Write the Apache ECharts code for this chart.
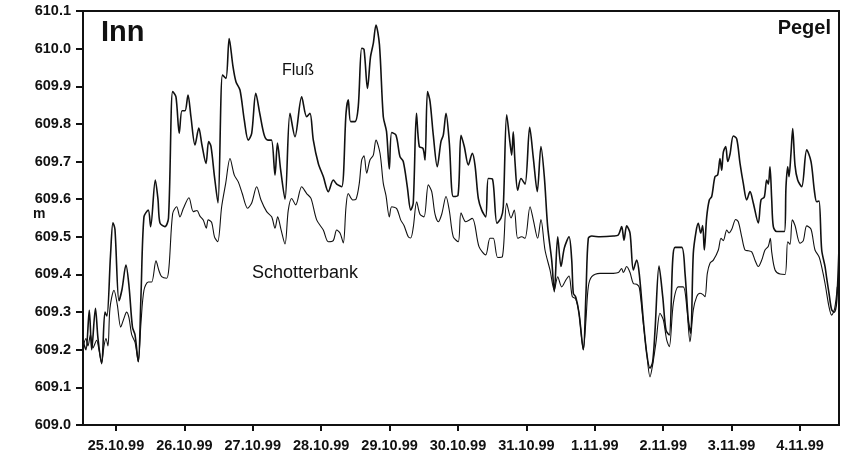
<!DOCTYPE html>
<html>
<head>
<meta charset="utf-8">
<script src="https://cdn.jsdelivr.net/npm/echarts@6/dist/echarts.min.js"></script>
<style>
  html, body { margin: 0; padding: 0; background: #fff; }
  #chart { width: 844px; height: 458px; }
</style>
</head>
<body>
<div id="chart"></div>
<script>
// Water level at the gauge, river Inn, 24.10.99 – 4.11.99
// Time is given in days since 25.10.99 00:00, levels in m a.s.l.

const dateLabels = ['25.10.99', '26.10.99', '27.10.99', '28.10.99', '29.10.99', '30.10.99',
                    '31.10.99', '1.11.99', '2.11.99', '3.11.99', '4.11.99'];
const dateTicks = [0, 1, 2, 3, 4, 5, 6, 7, 8, 9, 10];

const levelTicks = { min: 609.0, max: 610.1, step: 0.1 };

// Fluß (river channel)
const flussTime = [
  -0.478, -0.439, -0.390, -0.355, -0.300, -0.263, -0.209, -0.161, -0.132, -0.080,
  -0.044, -0.015, 0.044, 0.088, 0.146, 0.190, 0.241, 0.278, 0.326, 0.365,
  0.409, 0.472, 0.507, 0.575, 0.614, 0.643, 0.716, 0.768, 0.829, 0.877,
  0.925, 0.965, 1.009, 1.053, 1.096, 1.155, 1.211, 1.257, 1.316, 1.355,
  1.389, 1.440, 1.491, 1.557, 1.608, 1.655, 1.711, 1.754, 1.813, 1.876,
  1.934, 1.984, 2.044, 2.105, 2.168, 2.222, 2.273, 2.325, 2.361, 2.408,
  2.471, 2.544, 2.617, 2.715, 2.788, 2.836, 2.885, 2.958, 3.031, 3.104,
  3.177, 3.227, 3.300, 3.363, 3.396, 3.431, 3.494, 3.542, 3.592, 3.626,
  3.677, 3.721, 3.762, 3.801, 3.852, 3.908, 3.955, 3.996, 4.031, 4.094,
  4.152, 4.200, 4.259, 4.309, 4.346, 4.393, 4.434, 4.488, 4.518, 4.554,
  4.591, 4.639, 4.697, 4.751, 4.785, 4.825, 4.873, 4.931, 5.000, 5.044,
  5.092, 5.151, 5.209, 5.249, 5.297, 5.347, 5.405, 5.443, 5.502, 5.570,
  5.629, 5.662, 5.712, 5.760, 5.785, 5.808, 5.833, 5.873, 5.921, 5.980,
  6.048, 6.101, 6.159, 6.213, 6.262, 6.311, 6.370, 6.408, 6.458, 6.506,
  6.554, 6.623, 6.662, 6.686, 6.721, 6.769, 6.832, 6.871, 6.905, 6.955,
  7.076, 7.271, 7.344, 7.393, 7.427, 7.466, 7.515, 7.563, 7.613, 7.651,
  7.709, 7.759, 7.807, 7.846, 7.880, 7.939, 7.993, 8.041, 8.089, 8.139,
  8.173, 8.271, 8.319, 8.367, 8.402, 8.440, 8.480, 8.513, 8.548, 8.577,
  8.601, 8.636, 8.674, 8.709, 8.757, 8.797, 8.830, 8.855, 8.879, 8.914,
  8.943, 8.977, 9.025, 9.075, 9.123, 9.171, 9.221, 9.269, 9.317, 9.390,
  9.430, 9.478, 9.513, 9.537, 9.561, 9.586, 9.610, 9.659, 9.771, 9.795,
  9.820, 9.839, 9.868, 9.893, 9.927, 9.966, 10.025, 10.098, 10.161, 10.209,
  10.244, 10.278, 10.317, 10.366, 10.390, 10.424, 10.463, 10.502, 10.537, 10.570
];
const flussLevel = [
  609.220, 609.200, 609.305, 609.200, 609.310, 609.230, 609.163, 609.300, 609.290, 609.450,
  609.537, 609.520, 609.330, 609.360, 609.425, 609.370, 609.260, 609.240, 609.168, 609.340,
  609.553, 609.571, 609.527, 609.651, 609.600, 609.537, 609.527, 609.550, 609.886, 609.872,
  609.775, 609.835, 609.835, 609.877, 609.819, 609.744, 609.789, 609.744, 609.695, 609.753,
  609.740, 609.660, 609.590, 609.930, 609.921, 610.027, 609.952, 609.912, 609.890, 609.810,
  609.757, 609.775, 609.881, 609.825, 609.770, 609.757, 609.757, 609.664, 609.749, 609.677,
  609.600, 609.828, 609.766, 609.872, 609.819, 609.828, 609.757, 609.695, 609.660, 609.620,
  609.651, 609.640, 609.633, 609.828, 609.864, 609.806, 609.806, 609.846, 610.001, 609.998,
  609.894, 609.978, 610.014, 610.063, 610.010, 609.819, 609.780, 609.680, 609.777, 609.770,
  609.713, 609.700, 609.633, 609.571, 609.590, 609.828, 609.740, 609.735, 609.704, 609.886,
  609.860, 609.770, 609.686, 609.753, 609.770, 609.828, 609.750, 609.607, 609.610, 609.770,
  609.740, 609.691, 609.722, 609.690, 609.602, 609.571, 609.553, 609.655, 609.654, 609.536,
  609.550, 609.580, 609.824, 609.750, 609.717, 609.779, 609.700, 609.624, 609.655, 609.640,
  609.791, 609.710, 609.620, 609.740, 609.660, 609.527, 609.438, 609.354, 609.500, 609.421,
  609.470, 609.500, 609.440, 609.350, 609.340, 609.297, 609.200, 609.350, 609.496, 609.502,
  609.500, 609.502, 609.505, 609.527, 609.491, 609.529, 609.510, 609.412, 609.438, 609.400,
  609.279, 609.190, 609.151, 609.168, 609.250, 609.422, 609.341, 609.252, 609.239, 609.438,
  609.472, 609.472, 609.403, 609.279, 609.244, 609.456, 609.514, 609.536, 609.510, 609.530,
  609.465, 609.553, 609.598, 609.607, 609.660, 609.665, 609.708, 609.677, 609.725, 609.740,
  609.700, 609.720, 609.768, 609.760, 609.695, 609.642, 609.598, 609.620, 609.590, 609.537,
  609.598, 609.606, 609.651, 609.640, 609.686, 609.600, 609.527, 609.514, 609.514, 609.633,
  609.686, 609.660, 609.722, 609.788, 609.690, 609.651, 609.633, 609.731, 609.700, 609.624,
  609.593, 609.595, 609.465, 609.421, 609.390, 609.350, 609.306, 609.300, 609.332, 609.474
];

// Schotterbank (gravel bar)
const bankTime = [
  -0.478, -0.439, -0.409, -0.373, -0.336, -0.282, -0.249, -0.209, -0.175, -0.146,
  -0.117, -0.088, -0.029, 0.019, 0.069, 0.110, 0.156, 0.190, 0.230, 0.278,
  0.326, 0.365, 0.409, 0.472, 0.522, 0.585, 0.629, 0.668, 0.741, 0.775,
  0.829, 0.887, 0.936, 0.984, 1.067, 1.130, 1.184, 1.228, 1.276, 1.320,
  1.349, 1.399, 1.440, 1.487, 1.545, 1.604, 1.667, 1.730, 1.788, 1.846,
  1.925, 1.984, 2.057, 2.120, 2.203, 2.276, 2.325, 2.364, 2.412, 2.471,
  2.519, 2.569, 2.627, 2.715, 2.788, 2.851, 2.934, 3.031, 3.104, 3.177,
  3.227, 3.275, 3.323, 3.363, 3.396, 3.461, 3.509, 3.557, 3.592, 3.626,
  3.665, 3.713, 3.762, 3.801, 3.860, 3.908, 3.947, 3.996, 4.031, 4.104,
  4.162, 4.211, 4.273, 4.309, 4.346, 4.396, 4.444, 4.503, 4.566, 4.616,
  4.664, 4.712, 4.762, 4.825, 4.873, 4.931, 5.004, 5.044, 5.113, 5.209,
  5.307, 5.405, 5.468, 5.516, 5.580, 5.648, 5.712, 5.775, 5.823, 5.873,
  5.931, 5.980, 6.053, 6.101, 6.165, 6.213, 6.272, 6.345, 6.408, 6.458,
  6.516, 6.579, 6.623, 6.671, 6.721, 6.769, 6.832, 6.871, 6.905, 6.955,
  7.076, 7.271, 7.344, 7.393, 7.417, 7.466, 7.515, 7.563, 7.613, 7.651,
  7.709, 7.759, 7.807, 7.846, 7.895, 7.953, 8.001, 8.051, 8.089, 8.148,
  8.221, 8.294, 8.344, 8.392, 8.440, 8.490, 8.538, 8.577, 8.611, 8.645,
  8.684, 8.733, 8.806, 8.845, 8.879, 8.929, 8.962, 9.002, 9.060, 9.098,
  9.148, 9.196, 9.244, 9.294, 9.342, 9.390, 9.440, 9.488, 9.537, 9.566,
  9.586, 9.635, 9.708, 9.781, 9.820, 9.854, 9.887, 9.927, 10.000, 10.048,
  10.098, 10.161, 10.219, 10.278, 10.317, 10.366, 10.424, 10.463, 10.507, 10.545
];
const bankLevel = [
  609.210, 609.230, 609.210, 609.240, 609.205, 609.225, 609.200, 609.165, 609.210, 609.230,
  609.210, 609.310, 609.358, 609.320, 609.260, 609.280, 609.300, 609.285, 609.240, 609.220,
  609.168, 609.270, 609.358, 609.380, 609.380, 609.436, 609.410, 609.394, 609.390, 609.420,
  609.562, 609.580, 609.553, 609.575, 609.604, 609.567, 609.570, 609.555, 609.545, 609.523,
  609.545, 609.538, 609.500, 609.487, 609.580, 609.642, 609.708, 609.664, 609.646, 609.615,
  609.576, 609.590, 609.633, 609.598, 609.567, 609.553, 609.523, 609.553, 609.520, 609.481,
  609.571, 609.602, 609.585, 609.633, 609.615, 609.602, 609.545, 609.518, 609.487, 609.490,
  609.518, 609.510, 609.484, 609.580, 609.615, 609.598, 609.600, 609.642, 609.704, 609.715,
  609.669, 609.704, 609.717, 609.757, 609.722, 609.642, 609.610, 609.553, 609.580, 609.575,
  609.545, 609.530, 609.500, 609.497, 609.525, 609.593, 609.560, 609.553, 609.638, 609.620,
  609.560, 609.540, 609.560, 609.607, 609.570, 609.500, 609.487, 609.564, 609.540, 609.549,
  609.474, 609.452, 609.496, 609.496, 609.445, 609.447, 609.589, 609.550, 609.571, 609.496,
  609.500, 609.496, 609.580, 609.545, 609.496, 609.546, 609.465, 609.412, 609.359, 609.394,
  609.367, 609.386, 609.396, 609.341, 609.335, 609.297, 609.200, 609.280, 609.367, 609.394,
  609.403, 609.403, 609.405, 609.416, 609.405, 609.421, 609.405, 609.376, 609.374, 609.365,
  609.270, 609.190, 609.128, 609.160, 609.220, 609.297, 609.280, 609.226, 609.208, 609.323,
  609.367, 609.367, 609.314, 609.221, 609.306, 609.341, 609.350, 609.347, 609.341, 609.403,
  609.430, 609.438, 609.465, 609.496, 609.490, 609.518, 609.510, 609.520, 609.546, 609.540,
  609.500, 609.465, 609.463, 609.460, 609.438, 609.421, 609.438, 609.465, 609.475, 609.496,
  609.460, 609.412, 609.401, 609.400, 609.487, 609.480, 609.545, 609.530, 609.483, 609.490,
  609.529, 609.520, 609.465, 609.447, 609.420, 609.376, 609.314, 609.292, 609.310, 609.367
];

const toPairs = (t, v) => t.map((x, i) => [x, v[i]]);

const FONT = '"Liberation Sans", Arial, Helvetica, sans-serif';
const chart = echarts.init(document.getElementById('chart'), null, { renderer: 'canvas' });

chart.setOption({
  animation: false,
  backgroundColor: '#ffffff',
  grid: {
    left: 83, right: 5, top: 11, bottom: 33,
    show: true, borderColor: '#111', borderWidth: 2, backgroundColor: 'transparent'
  },
  xAxis: {
    type: 'value',
    min: -0.482,
    max: 10.57,
    axisLine: { show: true, onZero: false, lineStyle: { color: '#111', width: 2 } },
    axisTick: { show: true, length: 6, customValues: dateTicks, lineStyle: { color: '#111', width: 2 } },
    axisLabel: {
      customValues: dateTicks,
      formatter: (v) => dateLabels[Math.round(v)],
      color: '#111', fontFamily: FONT, fontWeight: 'bold', fontSize: 14.5, margin: 13
    },
    splitLine: { show: false }
  },
  yAxis: {
    type: 'value',
    min: levelTicks.min,
    max: levelTicks.max,
    interval: levelTicks.step,
    axisLine: { show: true, onZero: false, lineStyle: { color: '#111', width: 2 } },
    axisTick: { show: true, length: 7, lineStyle: { color: '#111', width: 2 } },
    axisLabel: {
      formatter: (v) => v.toFixed(1),
      color: '#111', fontFamily: FONT, fontWeight: 'bold', fontSize: 14.5, margin: 12
    },
    splitLine: { show: false }
  },
  series: [
    {
      name: 'Fluß',
      type: 'line',
      data: toPairs(flussTime, flussLevel),
      showSymbol: false,
      smooth: 0.3,
      lineStyle: { color: '#111', width: 1.6 }
    },
    {
      name: 'Schotterbank',
      type: 'line',
      data: toPairs(bankTime, bankLevel),
      showSymbol: false,
      smooth: 0.3,
      lineStyle: { color: '#111', width: 1.1 }
    }
  ],
  graphic: [
    { type: 'text', left: 101, top: 18,
      style: { text: 'Inn', font: 'bold 29px ' + FONT, fill: '#111' } },
    { type: 'text', right: 13, top: 18,
      style: { text: 'Pegel', font: 'bold 20px ' + FONT, fill: '#111' } },
    { type: 'text', left: 282, top: 63,
      style: { text: 'Fluß', font: '16px ' + FONT, fill: '#111' } },
    { type: 'text', left: 252, top: 264,
      style: { text: 'Schotterbank', font: '18px ' + FONT, fill: '#111' } },
    { type: 'text', left: 33, top: 207,
      style: { text: 'm', font: 'bold 14px ' + FONT, fill: '#111' } }
  ]
});
</script>
</body>
</html>
